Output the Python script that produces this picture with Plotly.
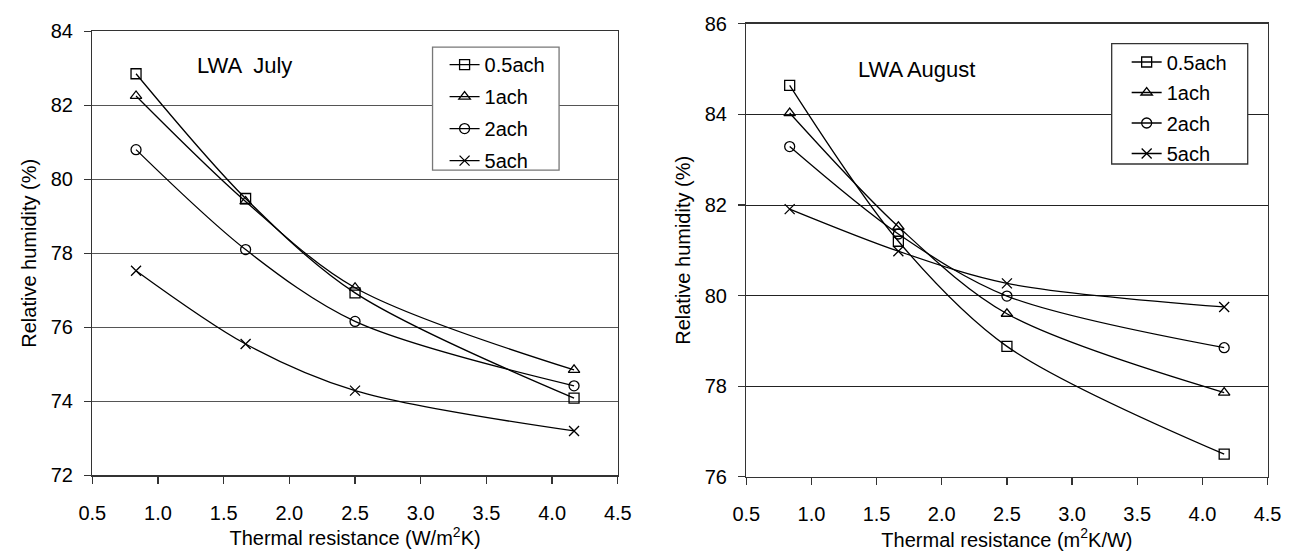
import plotly.graph_objects as go

x_vals = [0.833, 1.667, 2.5, 4.167]
series_names = ["0.5ach", "1ach", "2ach", "5ach"]
symbols = ["square-open", "triangle-up-open", "circle-open", "x-thin-open"]

july_05 = [82.85, 79.48, 76.93, 74.09]
july_1 = [82.25, 79.40, 77.07, 74.85]
july_2 = [80.80, 78.10, 76.16, 74.42]
july_5 = [77.53, 75.55, 74.29, 73.20]

aug_05 = [84.64, 81.20, 78.88, 76.50]
aug_1 = [84.03, 81.52, 79.60, 77.86]
aug_2 = [83.29, 81.36, 79.99, 78.85]
aug_5 = [81.91, 80.98, 80.27, 79.75]

x_ticks = [0.5, 1.0, 1.5, 2.0, 2.5, 3.0, 3.5, 4.0, 4.5]
x_ticktext = ["0.5", "1.0", "1.5", "2.0", "2.5", "3.0", "3.5", "4.0", "4.5"]

W, H = 1308, 557
FONT = "Liberation Sans, Arial, sans-serif"

fig = go.Figure()

for i, (name, sym, ys) in enumerate(zip(series_names, symbols, [july_05, july_1, july_2, july_5])):
    fig.add_trace(go.Scatter(
        x=x_vals, y=ys, name=name, mode="lines+markers",
        line=dict(color="black", width=1.3, shape="spline", smoothing=0.9),
        marker=dict(symbol=sym, size=10, color="black", line=dict(color="black", width=1.3)),
        xaxis="x", yaxis="y", legend="legend", legendgroup=f"a{i}",
    ))

for i, (name, sym, ys) in enumerate(zip(series_names, symbols, [aug_05, aug_1, aug_2, aug_5])):
    fig.add_trace(go.Scatter(
        x=x_vals, y=ys, name=name, mode="lines+markers",
        line=dict(color="black", width=1.3, shape="spline", smoothing=0.9),
        marker=dict(symbol=sym, size=10, color="black", line=dict(color="black", width=1.3)),
        xaxis="x2", yaxis="y2", legend="legend2", legendgroup=f"b{i}",
    ))

def px_x(p):
    return p / W

def px_y(p):
    return 1 - p / H

axis_common = dict(
    showline=True, mirror=True, linecolor="#333", linewidth=1.3,
    ticks="outside", ticklen=7, tickcolor="#333", tickwidth=1.3,
    tickfont=dict(family=FONT, size=20, color="black"),
    zeroline=False,
)

fig.update_layout(
    width=W, height=H,
    margin=dict(l=0, r=0, t=0, b=0),
    paper_bgcolor="white", plot_bgcolor="white",
    font=dict(family=FONT, color="black"),
    hovermode=False,
    xaxis=dict(domain=[px_x(80), px_x(617)], range=[0.5, 4.5], tickvals=x_ticks, ticktext=x_ticktext,
               showgrid=False, anchor="y", ticklabelstandoff=12,
               title=dict(text="Thermal resistance (W/m<sup>2</sup>K)", font=dict(family=FONT, size=20), standoff=7),
               **axis_common),
    yaxis=dict(domain=[px_y(483.5), px_y(21)], range=[72, 84], dtick=2, anchor="x",
               showgrid=True, gridcolor="#555", gridwidth=1, ticklabelstandoff=7,
               title=dict(text="Relative humidity (%)", font=dict(family=FONT, size=20), standoff=8),
               **axis_common),
    xaxis2=dict(domain=[px_x(748.3), px_x(1281)], range=[0.5, 4.5], tickvals=x_ticks, ticktext=x_ticktext,
                showgrid=False, anchor="y2", ticklabelstandoff=12,
                title=dict(text="Thermal resistance (m<sup>2</sup>K/W)", font=dict(family=FONT, size=20), standoff=7),
                **axis_common),
    yaxis2=dict(domain=[px_y(485), px_y(13.3)], range=[76, 86], dtick=2, anchor="x2",
                showgrid=True, gridcolor="#222", gridwidth=1, ticklabelstandoff=7,
                title=dict(text="Relative humidity (%)", font=dict(family=FONT, size=20), standoff=8),
                **axis_common),
    legend=dict(x=px_x(440), y=px_y(35.5), xanchor="left", yanchor="top",
                bgcolor="rgba(0,0,0,0)", borderwidth=0,
                font=dict(family=FONT, size=20), itemwidth=30, tracegroupgap=3),
    legend2=dict(x=px_x(1137), y=px_y(32.8), xanchor="left", yanchor="top",
                 bgcolor="rgba(0,0,0,0)", borderwidth=0,
                 font=dict(family=FONT, size=20), itemwidth=30, tracegroupgap=1.5),
    showlegend=True,
)

# legend frames
fig.add_shape(type="rect", xref="paper", yref="paper",
              x0=px_x(427.7), x1=px_x(557), y0=px_y(165.7), y1=px_y(37.7),
              fillcolor="white", line=dict(color="#777", width=1.3), layer="above")
fig.add_shape(type="rect", xref="paper", yref="paper",
              x0=px_x(1121.7), x1=px_x(1260.7), y0=px_y(159.3), y1=px_y(34),
              fillcolor="white", line=dict(color="#333", width=1.3), layer="above")

fig.add_annotation(text="LWA  July", x=px_x(185), y=px_y(57), xref="paper", yref="paper",
                   xanchor="left", yanchor="middle", showarrow=False,
                   font=dict(family=FONT, size=22, color="black"))
fig.add_annotation(text="LWA August", x=px_x(860), y=px_y(61), xref="paper", yref="paper",
                   xanchor="left", yanchor="middle", showarrow=False,
                   font=dict(family=FONT, size=22, color="black"))

fig.write_html("out.html",
               config={"displayModeBar": False, "staticPlot": True},
               post_script="document.body.style.margin='0';document.body.style.overflow='hidden';")
